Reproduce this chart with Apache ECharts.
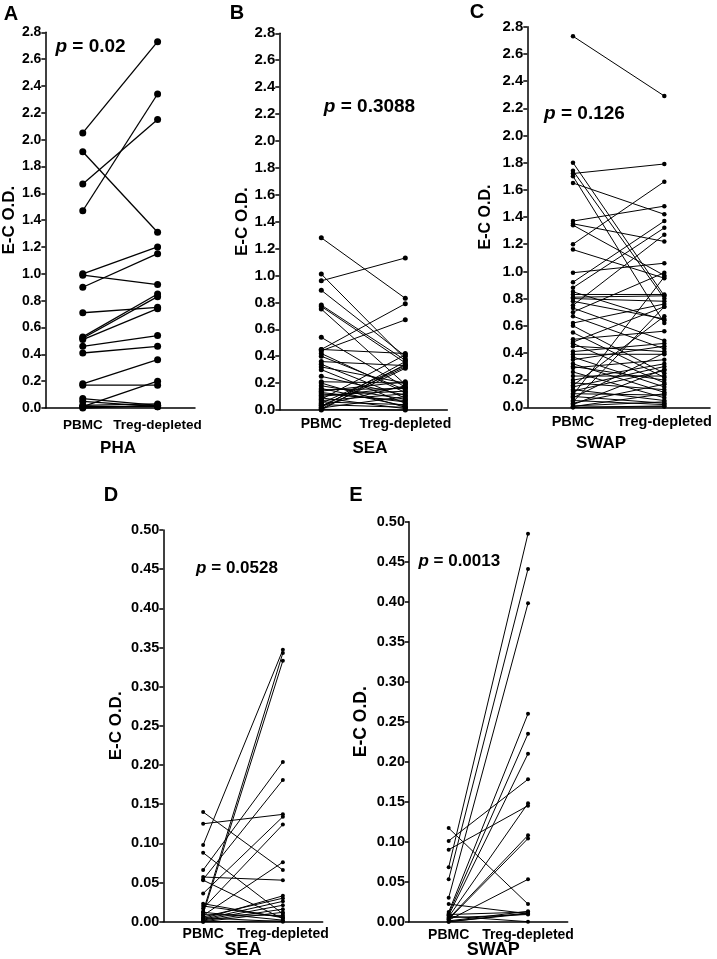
<!DOCTYPE html>
<html>
<head>
<meta charset="utf-8">
<script src="https://cdn.jsdelivr.net/npm/echarts@6/dist/echarts.min.js"></script>
<style>
html, body { margin: 0; padding: 0; background: #fff; }
#chart { width: 717px; height: 959px; }
</style>
</head>
<body>
<div id="chart"></div>
<script>
var categories = ['PBMC', 'Treg-depleted'];

// A - PHA
var phaPbmc = [2.05, 1.91, 1.67, 1.47, 1.00, 0.99, 0.90, 0.71, 0.53, 0.52, 0.51, 0.46, 0.41, 0.18, 0.17, 0.07, 0.05, 0.02, 0.01, 0.01, 0.00];
var phaTreg = [2.73, 1.31, 2.15, 2.34, 1.20, 0.92, 1.15, 0.75, 0.85, 0.83, 0.74, 0.54, 0.46, 0.36, 0.17, 0.02, 0.01, 0.03, 0.20, 0.01, 0.02];

// B - SEA
var seaPbmc = [1.28, 1.01, 0.96, 0.89, 0.78, 0.77, 0.75, 0.54, 0.45, 0.45, 0.44, 0.42, 0.40, 0.36, 0.34, 0.32, 0.30, 0.25, 0.21, 0.20,
    0.18, 0.16, 0.15, 0.14, 0.13, 0.12, 0.11, 0.10, 0.09, 0.08, 0.07, 0.06, 0.05, 0.04, 0.035, 0.03, 0.02, 0.015, 0.01, 0.005, 0.00];
var seaTreg = [0.83, 0.38, 1.13, 0.40, 0.37, 0.35, 0.19, 0.17, 0.79, 0.42, 0.67, 0.13, 0.15, 0.33, 0.09, 0.20, 0.05, 0.11, 0.20, 0.02,
    0.08, 0.03, 0.16, 0.21, 0.06, 0.07, 0.14, 0.17, 0.01, 0.41, 0.12, 0.04, 0.33, 0.02, 0.18, 0.32, 0.36, 0.10, 0.31, 0.00, 0.34];

// C - SWAP
var swapPbmc = [2.73, 1.80, 1.74, 1.72, 1.70, 1.65, 1.37, 1.35, 1.34, 1.20, 1.16, 0.99, 0.92, 0.88, 0.85, 0.83, 0.81, 0.80, 0.78, 0.75,
    0.73, 0.70, 0.67, 0.62, 0.60, 0.55, 0.50, 0.48, 0.47, 0.45, 0.41, 0.39, 0.37, 0.35, 0.32, 0.30, 0.29, 0.26, 0.23, 0.20,
    0.18, 0.16, 0.15, 0.13, 0.12, 0.10, 0.09, 0.08, 0.07, 0.05, 0.04, 0.03, 0.02, 0.01, 0.005, 0.00, 0.00];
var swapTreg = [2.29, 0.82, 0.80, 1.79, 0.62, 1.42, 1.48, 1.22, 0.97, 1.66, 0.95, 1.06, 1.37, 1.32, 0.64, 0.83, 0.82, 0.78, 0.65, 1.27,
    0.49, 0.99, 0.43, 0.76, 0.25, 0.22, 0.56, 0.74, 0.18, 0.41, 0.47, 0.39, 0.15, 0.45, 0.11, 0.20, 0.35, 0.07, 0.23, 0.32,
    0.13, 0.67, 0.30, 0.05, 0.27, 0.09, 0.96, 0.03, 0.40, 0.02, 0.74, 0.17, 0.28, 0.04, 0.10, 0.01, 0.005];

// D - SEA (low range)
var seaLowPbmc = [0.140, 0.125, 0.098, 0.088, 0.066, 0.057, 0.054, 0.053, 0.036, 0.023, 0.020, 0.017, 0.013,
    0.012, 0.010, 0.009, 0.008, 0.006, 0.005, 0.004, 0.003, 0.002, 0.001, 0.000, 0.000];
var seaLowTreg = [0.066, 0.137, 0.347, 0.010, 0.204, 0.053, 0.181, 0.004, 0.134, 0.005, 0.006, 0.124, 0.343,
    0.002, 0.333, 0.008, 0.076, 0.030, 0.000, 0.033, 0.026, 0.021, 0.016, 0.012, 0.001];

// E - SWAP (low range)
var swapLowPbmc = [0.117, 0.101, 0.090, 0.068, 0.053, 0.030, 0.022, 0.012, 0.010, 0.009,
    0.008, 0.007, 0.006, 0.005, 0.004, 0.003, 0.002, 0.001, 0.000, 0.000];
var swapLowTreg = [0.022, 0.178, 0.145, 0.485, 0.441, 0.398, 0.010, 0.260, 0.235, 0.012,
    0.210, 0.000, 0.148, 0.009, 0.108, 0.104, 0.053, 0.013, 0.011, 0.010];

var panelLetters = ['A', 'B', 'C', 'D', 'E'];
var stimuli = ['PHA', 'SEA', 'SWAP', 'SEA', 'SWAP'];
var pValues = ['0.02', '0.3088', '0.126', '0.0528', '0.0013'];
var yMax = [2.8, 2.8, 2.8, 0.5, 0.5];
var yStep = [0.2, 0.2, 0.2, 0.05, 0.05];
var yDecimals = [1, 1, 1, 2, 2];
var yTitle = 'E-C O.D.';

var pbmcSets = [phaPbmc, seaPbmc, swapPbmc, seaLowPbmc, swapLowPbmc];
var tregSets = [phaTreg, seaTreg, swapTreg, seaLowTreg, swapLowTreg];

// positions and styles, one per panel
var FONT = '"Liberation Sans", Arial, Helvetica, sans-serif';
var layout = [
    {grid: [40, 32.3, 155, 375.7], dot: 7, lw: 1.3, tickFs: 14, nameFs: 17, nameGap: 22, catFs: 13.5, catMargin: 10,
        letter: [11, 14], p: [90.5, 47], pFs: 19, stim: [118, 448], stimFs: 17},
    {grid: [279.3, 33.3, 168, 376.7], dot: 5, lw: 1, tickFs: 15, nameFs: 17, nameGap: 25, catFs: 14, catMargin: 7,
        letter: [237, 13.5], p: [369.5, 106.7], pFs: 19, stim: [370, 448], stimFs: 17},
    {grid: [527.3, 26.7, 182.7, 380.6], dot: 4.5, lw: 1, tickFs: 15, nameFs: 16, nameGap: 34, catFs: 14.5, catMargin: 7,
        letter: [477, 12], p: [584.5, 114], pFs: 19, stim: [601, 443], stimFs: 17},
    {grid: [163.3, 530, 159.4, 391.7], dot: 4, lw: 1, tickFs: 14.5, nameFs: 17, nameGap: 38, catFs: 14, catMargin: 5,
        letter: [111, 495.5], p: [237, 568.3], pFs: 17, stim: [243, 950.5], stimFs: 18},
    {grid: [409, 521.7, 158.7, 400], dot: 4, lw: 1, tickFs: 14.5, nameFs: 17.5, nameGap: 38.5, catFs: 14, catMargin: 6,
        letter: [356, 495.3], p: [459.3, 561.7], pFs: 17, stim: [493.3, 950.5], stimFs: 18}
];

var grids = [], xAxes = [], yAxes = [], series = [], texts = [];

layout.forEach(function (L, i) {
    grids.push({left: L.grid[0], top: L.grid[1], width: L.grid[2], height: L.grid[3], containLabel: false});
    xAxes.push({
        gridIndex: i,
        type: 'category',
        data: categories,
        boundaryGap: true,
        axisLine: {lineStyle: {color: '#000', width: 1.5}},
        axisTick: {show: false},
        axisLabel: {color: '#000', fontWeight: 'bold', fontSize: L.catFs, fontFamily: FONT, margin: L.catMargin, interval: 0}
    });
    yAxes.push({
        gridIndex: i,
        type: 'value',
        min: 0,
        max: yMax[i],
        interval: yStep[i],
        name: yTitle,
        nameLocation: 'middle',
        nameRotate: 90,
        nameGap: L.nameGap,
        nameTextStyle: {color: '#000', fontWeight: 'bold', fontSize: L.nameFs, fontFamily: FONT},
        axisLine: {show: true, lineStyle: {color: '#000', width: 1.5}},
        axisTick: {show: true, length: 4, lineStyle: {color: '#000', width: 1.5}},
        splitLine: {show: false},
        axisLabel: {
            color: '#000', fontWeight: 'bold', fontSize: L.tickFs, fontFamily: FONT, margin: 4,
            formatter: (function (d) { return function (v) { return v.toFixed(d); }; })(yDecimals[i])
        }
    });

    var pb = pbmcSets[i], tr = tregSets[i];
    for (var k = 0; k < pb.length; k++) {
        series.push({
            type: 'line',
            xAxisIndex: i,
            yAxisIndex: i,
            data: [pb[k], tr[k]],
            symbol: 'circle',
            symbolSize: L.dot,
            showSymbol: true,
            clip: false,
            silent: true,
            itemStyle: {color: '#000'},
            lineStyle: {color: '#000', width: L.lw}
        });
    }

    texts.push({
        type: 'text', x: L.letter[0], y: L.letter[1],
        style: {text: panelLetters[i], fill: '#000', font: 'bold 20px ' + FONT, align: 'center', verticalAlign: 'middle'}
    });
    texts.push({
        type: 'text', x: L.p[0], y: L.p[1],
        style: {
            text: '{i|p}{b| = ' + pValues[i] + '}',
            fill: '#000', align: 'center', verticalAlign: 'middle',
            rich: {
                i: {fontStyle: 'italic', fontWeight: 'bold', fontSize: L.pFs, fontFamily: FONT, fill: '#000'},
                b: {fontWeight: 'bold', fontSize: L.pFs, fontFamily: FONT, fill: '#000'}
            }
        }
    });
    texts.push({
        type: 'text', x: L.stim[0], y: L.stim[1],
        style: {text: stimuli[i], fill: '#000', font: 'bold ' + L.stimFs + 'px ' + FONT, align: 'center', verticalAlign: 'middle'}
    });
});

var chart = echarts.init(document.getElementById('chart'), null, {renderer: 'canvas'});
chart.setOption({
    animation: false,
    backgroundColor: '#fff',
    grid: grids,
    xAxis: xAxes,
    yAxis: yAxes,
    series: series,
    graphic: texts
});
</script>
</body>
</html>
